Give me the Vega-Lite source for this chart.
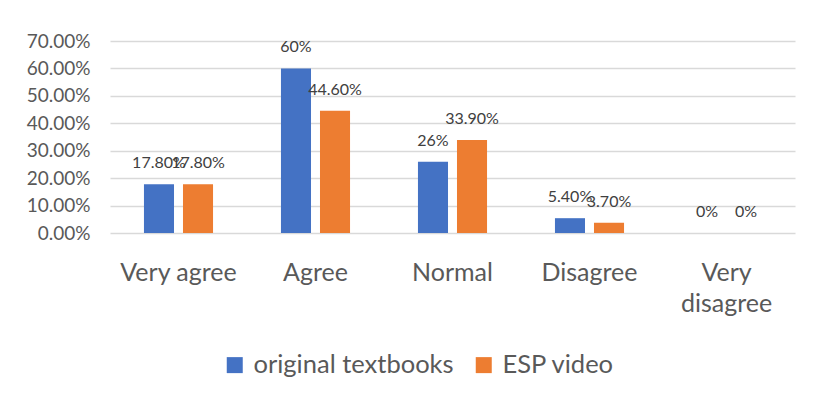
{
  "$schema": "https://vega.github.io/schema/vega-lite/v6.json",
  "autosize": "none",
  "width": 685,
  "height": 192,
  "padding": {"left": 110, "top": 41, "right": 20, "bottom": 169},
  "background": "white",
  "config": {
    "font": "Lato",
    "view": {"stroke": null},
    "axis": {"labelColor": "#595959", "domain": false, "ticks": false, "tickSize": 0}
  },
  "data": {
    "values": [
      {"category": "Very agree", "series": "original textbooks", "value": 0.178, "label": "17.80%"},
      {"category": "Very agree", "series": "ESP video", "value": 0.178, "label": "17.80%"},
      {"category": "Agree", "series": "original textbooks", "value": 0.6, "label": "60%"},
      {"category": "Agree", "series": "ESP video", "value": 0.446, "label": "44.60%"},
      {"category": "Normal", "series": "original textbooks", "value": 0.26, "label": "26%"},
      {"category": "Normal", "series": "ESP video", "value": 0.339, "label": "33.90%"},
      {"category": "Disagree", "series": "original textbooks", "value": 0.054, "label": "5.40%"},
      {"category": "Disagree", "series": "ESP video", "value": 0.037, "label": "3.70%"},
      {"category": "Very disagree", "series": "original textbooks", "value": 0, "label": "0%"},
      {"category": "Very disagree", "series": "ESP video", "value": 0, "label": "0%"}
    ]
  },
  "encoding": {
    "x": {
      "field": "category", "type": "nominal", "sort": null,
      "scale": {"paddingInner": 0, "paddingOuter": 0},
      "axis": {
        "title": null, "labelAngle": 0, "labelFontSize": 25, "labelPadding": 27,
        "labelLineHeight": 31, "labelBaseline": "top",
        "labelExpr": "datum.value == 'Very disagree' ? ['Very', 'disagree'] : datum.value"
      }
    },
    "xOffset": {
      "field": "series", "type": "nominal", "sort": ["original textbooks", "ESP video"],
      "scale": {"paddingInner": 0.23, "paddingOuter": 0.87}
    },
    "y": {
      "field": "value", "type": "quantitative",
      "scale": {"domain": [0, 0.7], "nice": false},
      "axis": {
        "title": null, "format": ".2%", "values": [0, 0.1, 0.2, 0.3, 0.4, 0.5, 0.6, 0.7],
        "labelFontSize": 19, "labelPadding": 20,
        "gridColor": "#D9D9D9", "gridWidth": 1.5
      }
    }
  },
  "layer": [
    {
      "mark": {"type": "bar"},
      "encoding": {
        "color": {
          "field": "series", "type": "nominal", "sort": ["original textbooks", "ESP video"],
          "scale": {"domain": ["original textbooks", "ESP video"], "range": ["#4472C4", "#ED7D31"]},
          "legend": {
            "title": null, "orient": "none", "direction": "horizontal",
            "legendX": 112, "legendY": 311,
            "symbolType": "square", "symbolSize": 256, "symbolStrokeWidth": 0,
            "labelFontSize": 25.5, "labelColor": "#595959", "labelOffset": 6,
            "columnPadding": 17, "padding": 0, "labelLimit": 400
          }
        }
      }
    },
    {
      "mark": {"type": "text", "dy": -21, "baseline": "middle", "fontSize": 16, "color": "#404040"},
      "encoding": {"text": {"field": "label"}}
    }
  ]
}
